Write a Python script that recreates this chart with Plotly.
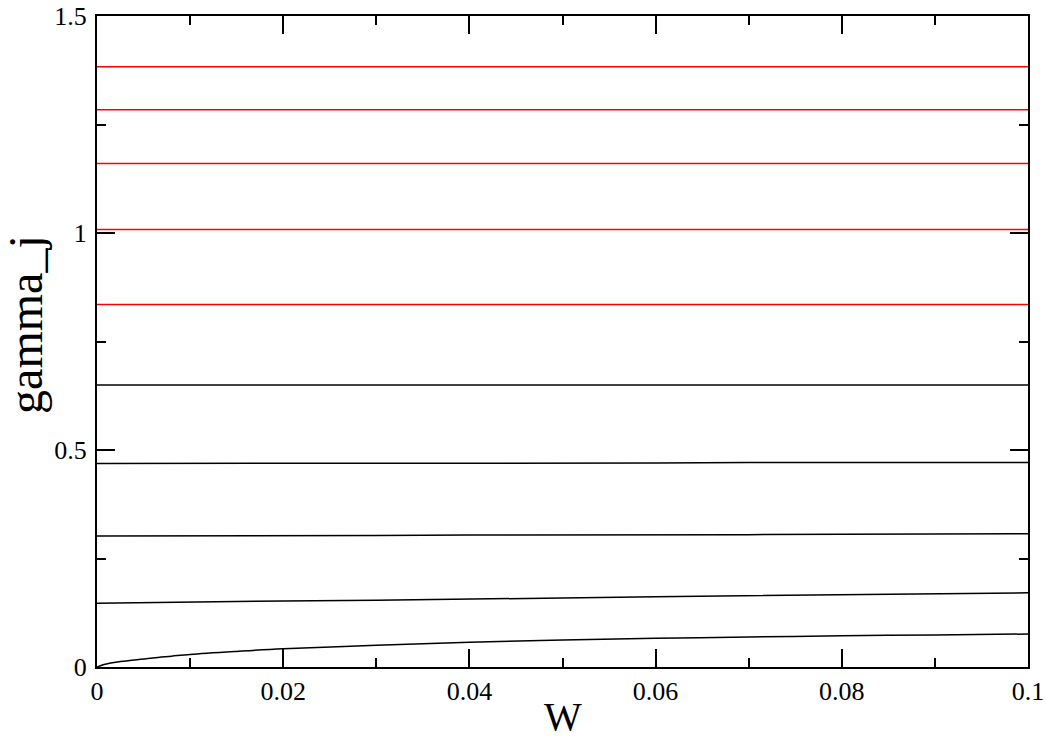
import plotly.graph_objects as go

# Sample points along the W axis
w = [0.0, 0.01, 0.02, 0.03, 0.04, 0.05, 0.06, 0.07, 0.08, 0.09, 0.1]
w_fine = [0.0, 0.0005, 0.001, 0.002, 0.004, 0.006, 0.008, 0.01, 0.015, 0.02,
          0.03, 0.04, 0.05, 0.06, 0.07, 0.08, 0.09, 0.1]

# Upper branches (red)
gamma_r1 = [1.383, 1.383, 1.383, 1.383, 1.383, 1.383, 1.383, 1.383, 1.383, 1.383, 1.383]
gamma_r2 = [1.284, 1.284, 1.284, 1.284, 1.284, 1.284, 1.284, 1.284, 1.284, 1.284, 1.284]
gamma_r3 = [1.160, 1.160, 1.160, 1.160, 1.160, 1.160, 1.160, 1.160, 1.160, 1.160, 1.160]
gamma_r4 = [1.008, 1.008, 1.008, 1.008, 1.008, 1.008, 1.008, 1.008, 1.008, 1.008, 1.008]
gamma_r5 = [0.835, 0.835, 0.835, 0.835, 0.835, 0.835, 0.835, 0.835, 0.835, 0.835, 0.835]

# Lower branches (black)
gamma_b1 = [0.650, 0.650, 0.650, 0.650, 0.650, 0.650, 0.650, 0.650, 0.650, 0.650, 0.650]
gamma_b2 = [0.469, 0.469, 0.469, 0.470, 0.470, 0.470, 0.470, 0.471, 0.471, 0.471, 0.471]
gamma_b3 = [0.302, 0.302, 0.303, 0.303, 0.304, 0.304, 0.305, 0.305, 0.306, 0.306, 0.307]
gamma_b4 = [0.147, 0.150, 0.152, 0.154, 0.156, 0.159, 0.162, 0.164, 0.167, 0.169, 0.171]
gamma_b5 = [0.0, 0.004, 0.007, 0.011, 0.016, 0.021, 0.025, 0.029, 0.036, 0.042,
            0.050, 0.057, 0.062, 0.066, 0.069, 0.072, 0.074, 0.076]

red_series = [gamma_r1, gamma_r2, gamma_r3, gamma_r4, gamma_r5]
black_series = [gamma_b1, gamma_b2, gamma_b3, gamma_b4]

fig = go.Figure()
for ys in red_series:
    fig.add_trace(go.Scatter(x=w, y=ys, mode="lines",
                             line=dict(color="#ff0000", width=1.5)))
for ys in black_series:
    fig.add_trace(go.Scatter(x=w, y=ys, mode="lines",
                             line=dict(color="#000000", width=1.5)))
fig.add_trace(go.Scatter(x=w_fine, y=gamma_b5, mode="lines",
                         line=dict(color="#000000", width=1.5, shape="spline")))

font_family = "Liberation Serif"
axis_common = dict(
    showgrid=False, zeroline=False, automargin=False,
    showline=True, linecolor="black", linewidth=2,
    mirror="allticks",
    ticks="inside", ticklen=18, tickwidth=1.5, tickcolor="black",
    ticklabeloverflow="allow",
    tickfont=dict(family=font_family, size=26, color="black"),
)

fig.update_layout(
    width=1046, height=738,
    margin=dict(l=97, r=18, t=16, b=71),
    paper_bgcolor="white", plot_bgcolor="white",
    showlegend=False,
    xaxis=dict(
        range=[0, 0.1], tickvals=[0, 0.02, 0.04, 0.06, 0.08, 0.1],
        ticktext=["0", "0.02", "0.04", "0.06", "0.08", "0.1"],
        minor=dict(dtick=0.01, tick0=0, ticks="inside", ticklen=9,
                   tickwidth=1.5, tickcolor="black"),
        **axis_common,
    ),
    yaxis=dict(
        range=[0, 1.5], tickvals=[0, 0.5, 1, 1.5],
        ticktext=["0", "0.5", "1", "1.5"],
        minor=dict(dtick=0.25, tick0=0, ticks="inside", ticklen=9,
                   tickwidth=1.5, tickcolor="black"),
        ticklabelstandoff=3,
        **axis_common,
    ),
    annotations=[
        dict(text="W", xref="paper", yref="paper", x=0.5, y=-0.0753,
             xanchor="center", yanchor="middle", showarrow=False,
             font=dict(family=font_family, size=40, color="black")),
        dict(text="gamma_j", xref="paper", yref="paper", x=-0.077, y=0.526,
             xanchor="center", yanchor="middle", textangle=-90, showarrow=False,
             font=dict(family=font_family, size=48, color="black")),
    ],
)

fig.write_html("out.html")
